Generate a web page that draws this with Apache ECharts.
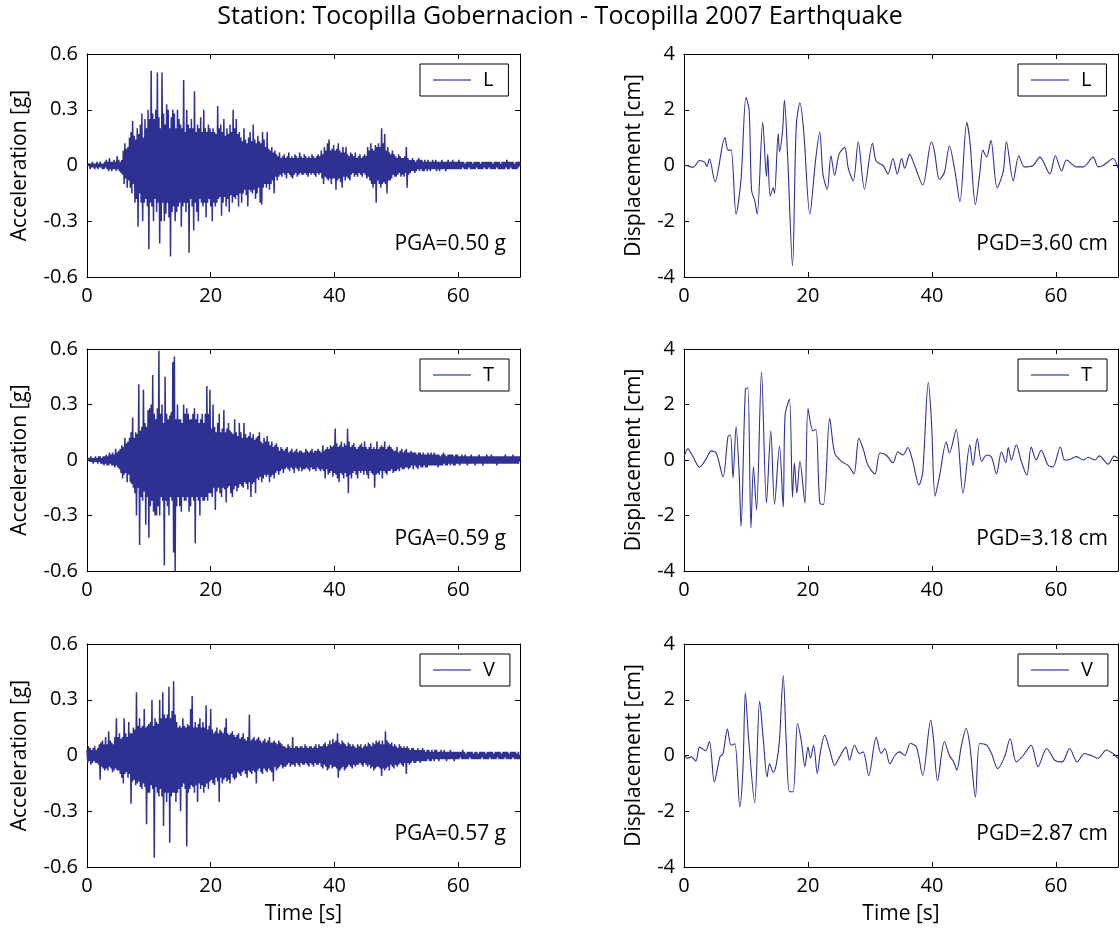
<!DOCTYPE html>
<html>
<head>
<meta charset="utf-8">
<script src="https://cdn.jsdelivr.net/npm/echarts@6/dist/echarts.min.js"></script>
<style>
html, body { margin: 0; padding: 0; background: #fff; }
#chart { width: 1120px; height: 931px; }
</style>
</head>
<body>
<div id="chart"></div>
<script>
// acceleration records [g], one sample every accStep seconds
const accStep = 0.125;

const accL = [
  // 0 - 5 s
  0, .01, -.01, .01, -.02, .01, -.01, .02, -.01, .01, -.02, .01, -.01, .02, -.02, .01, -.01, .02, -.01, .01,
  -.02, .01, -.02, .02, -.01, .03, -.02, .02, -.03, .04, -.02, .02, -.03, .02, -.02, .03, -.02, .02, -.03,
  // 5 - 10 s
  .05, -.02, .03, -.03, .02, -.04, .03, -.05, .08, -.1, .12, -.07, .09, -.12, .1, -.08,
  .15, -.12, .18, -.15, .24, -.1, .16, -.2, .14, -.18, .2, -.33, .17, -.15, .22, -.2,
  .28, -.3, .15, -.2, .25, -.18, .2, -.22,
  // 10 - 15 s
  .3, -.45, .25, -.2, .51, -.22, .28, -.3, .25, -.18, .3, -.25, .5, -.2, .26, -.42,
  .2, -.3, .5, -.2, .28, -.3, .22, -.26, .33, -.2, .3, -.28, .2, -.49, .26, -.25,
  .3, -.22, .28, -.3, .2, -.25, .3, -.22,
  // 15 - 20 s
  .25, -.2, .22, -.33, .2, -.22, .46, -.2, .18, -.25, .3, -.2, .22, -.47, .2, -.18,
  .25, -.22, .2, -.35, .4, -.2, .18, -.25, .22, -.3, .2, -.18, .26, -.2, .18, -.22,
  .3, -.2, .2, -.28, .18, -.2, .22, -.18,
  // 20 - 25 s
  .2, -.22, .18, -.3, .2, -.2, .18, -.22, .17, -.2, .32, -.18, .2, -.17, .22, -.27,
  .18, -.2, .25, -.17, .16, -.22, .2, -.18, .17, -.25, .22, -.16, .18, -.2, .3, -.17,
  .2, -.18, .25, -.16, .17, -.22, .18, -.15,
  // 25 - 30 s
  .15, -.2, .13, -.15, .2, -.13, .14, -.16, .12, -.22, .15, -.13, .18, -.14, .13, -.15,
  .22, -.13, .14, -.18, .12, -.15, .16, -.12, .13, -.2, .12, -.21, .18, -.12, .14, -.1,
  .1, -.12, .18, -.1, .09, -.13, .08, -.1,
  // 30 - 35 s
  .1, -.08, .07, -.15, .08, -.06, .06, -.08, .05, -.06, .07, -.05, .04, -.06, .05, -.04,
  .06, -.05, .04, -.07, .05, -.04, .07, -.05, .04, -.06, .05, -.07, .04, -.05, .06, -.04,
  .05, -.06, .04, -.05, .07, -.04, .05, -.05,
  // 35 - 40 s
  .04, -.05, .06, -.04, .05, -.05, .04, -.06, .05, -.04, .04, -.05, .06, -.04, .05, -.05,
  .04, -.06, .05, -.04, .06, -.05, .05, -.04, .08, -.07, .06, -.1, .1, -.06, .08, -.07,
  .12, -.08, .14, -.07, .08, -.1, .09, -.07,
  // 40 - 45 s
  .11, -.07, .08, -.13, .09, -.08, .12, -.07, .08, -.09, .07, -.12, .1, -.06, .07, -.08,
  .1, -.06, .06, -.07, .05, -.08, .07, -.05, .06, -.04, .05, -.06, .07, -.05, .04, -.06,
  .05, -.04, .06, -.05, .04, -.06, .05, -.04,
  // 45 - 50 s
  .06, -.05, .05, -.07, .1, -.06, .08, -.08, .12, -.1, .09, -.12, .08, -.1, .11, -.2,
  .1, -.08, .12, -.1, .1, -.12, .2, -.1, .12, -.09, .17, -.1, .08, -.15, .1, -.08,
  .07, -.08, .06, -.07, .08, -.05, .06, -.06,
  // 50 - 55 s
  .05, -.06, .04, -.05, .06, -.04, .05, -.06, .04, -.05, .04, -.06, .05, -.04, .1, -.12,
  .04, -.05, .03, -.04, .03, -.03, .04, -.03, .03, -.04, .02, -.03, .03, -.02, .04, -.03,
  .03, -.02, .03, -.03, .02, -.03, .03, -.02,
  // 55 - 60 s
  .02, -.03, .03, -.02, .02, -.03, .02, -.02, .03, -.02, .02, -.02, .03, -.03, .02, -.02,
  .02, -.03, .02, -.02, .03, -.02, .02, -.02, .02, -.03, .02, -.02, .03, -.02, .02, -.02,
  .02, -.02, .03, -.02, .02, -.02, .02, -.02,
  // 60 - 65 s
  .02, -.02, .03, -.02, .02, -.02, .02, -.01, .02, -.02, .01, -.02, .02, -.02, .02, -.01,
  .02, -.02, .02, -.02, .01, -.02, .02, -.02, .02, -.01, .02, -.02, .02, -.02, .01, -.02,
  .02, -.02, .02, -.01, .02, -.02, .02, -.02,
  // 65 - 70 s
  .02, -.01, .02, -.02, .02, -.02, .01, -.02, .02, -.02, .02, -.01, .02, -.02, .02, -.02,
  .01, -.02, .02, -.02, .02, -.02, .02, -.01, .03, -.02, .02, -.02, .02, -.01, .02, -.02,
  .02, -.02, .01, -.02, .02, -.02, .02, -.01, .02, 0
];

const accT = [
  // 0 - 5 s
  0, .01, -.01, .01, -.01, .02, -.01, .01, -.02, .01, -.01, .02, -.01, .01, -.02, .02,
  -.01, .02, -.02, .01, -.02, .02, -.03, .02, -.02, .03, -.03, .02, -.03, .04, -.02, .03,
  -.03, .04, -.03, .03, -.04, .06, -.03, .04,
  // 5 - 10 s
  -.04, .05, -.05, .06, -.07, .08, -.1, .07, -.08, .12, -.07, .09, -.12, .1, -.08, .12,
  -.12, .15, -.13, .23, -.15, .12, -.18, .15, -.3, .14, -.15, .41, -.46, .16, -.2, .18,
  -.22, .38, -.17, .2, -.35, .18, -.2, .27,
  // 10 - 15 s
  -.42, .28, -.25, .3, -.22, .46, -.28, .25, -.3, .22, -.3, .28, -.25, .59, -.3, .25,
  -.2, .3, -.22, .2, -.57, .45, -.22, .25, -.25, .22, -.3, .24, -.2, .26, -.22, .53,
  -.5, .56, -.6, .22, -.25, .3, -.2, .22,
  // 15 - 20 s
  -.25, .22, -.28, .2, -.2, .3, -.22, .25, -.22, .28, -.2, .25, -.28, .22, -.25, .22,
  -.2, .25, -.22, .28, -.45, .22, -.2, .25, -.22, .2, -.3, .22, -.2, .25, -.22, .2,
  -.22, .25, -.2, .4, -.22, .25, -.18, .38,
  // 20 - 25 s
  -.18, .17, -.2, .3, -.15, .18, -.27, .15, -.17, .2, -.15, .25, -.18, .15, -.2, .17,
  -.15, .27, -.16, .15, -.23, .17, -.15, .2, -.14, .16, -.18, .15, -.2, .14, -.16, .22,
  -.14, .15, -.17, .13, -.15, .2, -.13, .15,
  // 25 - 30 s
  -.14, .12, -.15, .2, -.12, .14, -.13, .12, -.16, .13, -.12, .15, -.2, .12, -.13, .14,
  -.12, .11, -.18, .12, -.1, .13, -.11, .15, -.09, .1, -.12, .09, -.1, .12, -.08, .1,
  -.09, .13, -.08, .1, -.12, .08, -.09, .1,
  // 30 - 35 s
  -.08, .07, -.1, .08, -.07, .09, -.06, .07, -.08, .05, -.06, .07, -.05, .06, -.07, .05,
  -.05, .06, -.04, .07, -.05, .04, -.06, .05, -.04, .06, -.05, .04, -.07, .05, -.04, .06,
  -.05, .04, -.06, .05, -.04, .05, -.06, .04,
  // 35 - 40 s
  -.05, .04, -.05, .06, -.04, .05, -.05, .04, -.06, .05, -.04, .06, -.05, .04, -.05, .05,
  -.06, .05, -.04, .06, -.05, .05, -.06, .04, -.05, .08, -.06, .05, -.1, .06, -.05, .07,
  -.08, .06, -.07, .08, -.06, .07, -.09,
  // 40 - 45 s
  .08, -.07, .17, -.08, .09, -.1, .07, -.12, .08, -.07, .1, -.08, .07, -.1, .09, -.07,
  .08, -.09, .17, -.18, .1, -.08, .07, -.1, .08, -.07, .09, -.06, .07, -.08, .06, -.1,
  .07, -.06, .08, -.07, .09, -.06, .07, -.08,
  // 45 - 50 s
  .1, -.06, .07, -.08, .06, -.1, .07, -.06, .09, -.07, .06, -.08, .07, -.15, .06, -.08,
  .1, -.07, .06, -.08, .07, -.06, .08, -.1, .07, -.06, .1, -.07, .06, -.08, .07, -.06,
  .08, -.06, .07, -.05, .06, -.07, .05, -.06,
  // 50 - 55 s
  .05, -.06, .07, -.05, .04, -.06, .05, -.04, .06, -.05, .04, -.05, .05, -.04, .06, -.04,
  .04, -.05, .04, -.04, .05, -.03, .04, -.05, .04, -.03, .04, -.04, .03, -.05, .04, -.03,
  .04, -.04, .03, -.04, .04, -.03, .03, -.04,
  // 55 - 60 s
  .03, -.04, .04, -.03, .03, -.03, .04, -.03, .03, -.03, .04, -.03, .03, -.03, .03, -.04,
  .03, -.03, .02, -.03, .03, -.03, .04, -.02, .03, -.03, .02, -.03, .03, -.02, .03, -.03,
  .03, -.02, .03, -.03, .02, -.03, .03, -.02,
  // 60 - 65 s
  .03, -.02, .02, -.03, .02, -.02, .03, -.02, .02, -.02, .03, -.02, .02, -.03, .02, -.02,
  .02, -.02, .03, -.02, .02, -.02, .02, -.03, .02, -.02, .02, -.02, .03, -.02, .02, -.02,
  .02, -.03, .02, -.02, .02, -.02, .03, -.02,
  // 65 - 70 s
  .02, -.02, .02, -.02, .03, -.02, .02, -.02, .02, -.02, .02, -.03, .02, -.02, .02, -.02,
  .02, -.02, .02, -.02, .02, -.02, .03, -.02, .02, -.02, .02, -.02, .02, -.02, .02, -.02,
  .03, -.02, .02, -.02, .02, -.02, .02, -.02, .02, 0
];

const accV = [
  // 0 - 5 s
  .03, -.04, .05, -.03, .04, -.05, .03, -.04, .04, -.03, .05, -.04, .03, -.04, .04, -.05,
  .06, -.13, .07, -.06, .08, -.07, .06, -.08, .1, -.07, .06, -.08, .13, -.06, .08, -.07,
  .07, -.09, .06, -.08, .1, -.07, .2, -.08,
  // 5 - 10 s
  .1, -.08, .12, -.1, .09, -.12, .1, -.15, .2, -.1, .12, -.09, .1, -.12, .18, -.1,
  .12, -.26, .12, -.14, .15, -.13, .14, -.16, .34, -.15, .16, -.14, .2, -.17, .15, -.18,
  .16, -.15, .25, -.17, .15, -.37, .16, -.2,
  // 10 - 15 s
  .17, -.2, .18, -.16, .3, -.18, .16, -.55, .2, -.17, .18, -.2, .17, -.22, .3, -.18,
  .2, -.22, .34, -.38, .22, -.2, .2, -.25, .22, -.2, .37, -.47, .2, -.22, .24, -.2,
  .4, -.2, .22, -.25, .18, -.2, .15, -.18,
  // 15 - 20 s
  .16, -.3, .15, -.17, .2, -.15, .16, -.18, .15, -.49, .17, -.2, .16, -.18, .25, -.16,
  .32, -.17, .15, -.2, .18, -.16, .15, -.25, .17, -.15, .2, -.18, .15, -.16, .18, -.2,
  .15, -.17, .27, -.15, .14, -.18, .16, -.14,
  // 20 - 25 s
  .25, -.13, .14, -.15, .12, -.16, .13, -.12, .15, -.14, .12, -.25, .14, -.12, .13, -.15,
  .12, -.13, .15, -.12, .2, -.14, .12, -.13, .11, -.15, .12, -.1, .13, -.12, .11, -.13,
  .1, -.12, .11, -.09, .12, -.1, .09, -.11,
  // 25 - 30 s
  .1, -.09, .12, -.08, .09, -.1, .08, -.12, .1, -.08, .22, -.09, .08, -.1, .09, -.08,
  .1, -.09, .08, -.15, .09, -.08, .1, -.07, .08, -.09, .07, -.1, .08, -.07, .09, -.08,
  .07, -.09, .08, -.07, .1, -.08, .07, -.09,
  // 30 - 35 s
  .07, -.14, .08, -.06, .07, -.08, .06, -.07, .08, -.06, .07, -.05, .06, -.07, .05, -.06,
  .05, -.06, .04, -.05, .06, -.04, .05, -.06, .04, -.05, .1, -.05, .04, -.06, .05, -.04,
  .05, -.05, .04, -.06, .05, -.04, .05, -.05,
  // 35 - 40 s
  .04, -.05, .06, -.04, .05, -.05, .04, -.06, .05, -.04, .05, -.05, .04, -.06, .05, -.04,
  .06, -.05, .04, -.05, .06, -.04, .05, -.06, .05, -.07, .06, -.05, .07, -.06, .05, -.08,
  .06, -.07, .08, -.05, .06, -.07, .09, -.06,
  // 40 - 45 s
  .07, -.06, .08, -.07, .12, -.12, .07, -.08, .06, -.07, .08, -.06, .07, -.08, .06, -.07,
  .05, -.06, .07, -.05, .06, -.06, .05, -.07, .06, -.05, .05, -.06, .04, -.05, .06, -.05,
  .05, -.04, .06, -.05, .04, -.06, .05, -.04,
  // 45 - 50 s
  .06, -.05, .05, -.06, .07, -.05, .06, -.07, .05, -.06, .07, -.08, .06, -.07, .08, -.06,
  .07, -.06, .08, -.07, .06, -.11, .08, -.07, .06, -.08, .13, -.07, .08, -.06, .07, -.08,
  .06, -.05, .07, -.06, .05, -.07, .06, -.05,
  // 50 - 55 s
  .05, -.06, .04, -.05, .06, -.04, .05, -.05, .04, -.06, .05, -.04, .04, -.1, .05, -.04,
  .04, -.05, .03, -.04, .04, -.03, .04, -.04, .03, -.04, .03, -.03, .04, -.03, .03, -.04,
  .03, -.03, .04, -.03, .03, -.03, .02, -.03,
  // 55 - 60 s
  .03, -.02, .03, -.03, .02, -.03, .03, -.02, .02, -.03, .03, -.02, .03, -.02, .02, -.03,
  .02, -.02, .03, -.02, .02, -.02, .03, -.02, .02, -.03, .02, -.02, .02, -.02, .03, -.02,
  .02, -.02, .02, -.03, .02, -.02, .02, -.02,
  // 60 - 65 s
  .02, -.02, .02, -.01, .02, -.02, .03, -.02, .02, -.02, .01, -.02, .02, -.02, .02, -.01,
  .02, -.02, .02, -.02, .01, -.02, .02, -.02, .02, -.02, .01, -.02, .02, -.02, .02, -.01,
  .02, -.02, .02, -.02, .01, -.02, .02, -.02,
  // 65 - 70 s
  .02, -.01, .02, -.02, .02, -.02, .01, -.02, .02, -.02, .02, -.01, .02, -.02, .02, -.02,
  .01, -.02, .02, -.02, .02, -.01, .02, -.02, .02, -.02, .01, -.02, .02, -.02, .02, -.01,
  .02, -.02, .02, -.02, .01, -.02, .02, -.02, 0
];

// displacement records: turning points of each trace (time [s], value [cm])
const dispTimeL = [0, 1.5, 2.5, 3.3, 3.7, 4.1, 5.0, 6.6, 7.1, 7.6, 8.4, 9.2, 10.0, 10.5, 10.9, 11.4, 11.8, 12.7, 13.3, 13.5,
  13.9, 14.4, 14.6, 15.2, 15.4, 15.9, 16.2, 16.7, 17.5, 18.1, 18.7, 19.3, 20.3, 21.2, 21.9, 22.4, 23.1, 23.7, 24.3, 25.0,
  25.9, 26.5, 27.3, 28.1, 29.1, 30.4, 31.0, 32.1, 32.9, 33.7, 34.4, 35.1, 35.6, 36.4, 37.2, 38.5, 39.9, 40.4, 41.2, 42.0,
  42.8, 43.7, 44.5, 45.6, 46.1, 47.0, 47.7, 48.2, 48.8, 49.5, 50.5, 51.5, 52.0, 53.1, 54.0, 54.9, 56.3, 57.4, 59.0, 59.9,
  60.9, 61.7, 63.3, 64.4, 66.0, 66.8, 67.6, 69.2, 70];
const dispL = [0.03, -0.06, 0.18, 0.12, -0.03, 0.24, -0.58, 1.0, 0.55, 0.55, -1.75, -0.5, 2.45, 2.0, -0.9, -1.25, -1.75, 1.55, -0.4, 0.4,
  -1.1, -0.8, -1.0, 1.15, 0.5, 1.25, 2.35, 0.4, -3.6, 1.4, 2.25, 1.25, -1.75, 0.15, 1.2, -0.3, -0.85, 0.35, -0.35, 0.4,
  0.65, -0.1, -0.55, 0.85, -0.85, 0.8, 0.15, 0, -0.3, 0.25, -0.3, 0.25, -0.1, 0.4, 0, -0.7, 0.85, 0.5, -0.5, -0.25,
  0.7, -0.2, -1.3, 1.55, 0.9, -1.4, -0.3, 0.55, 0.3, 0.9, -0.8, -0.2, 0.85, -0.55, 0.35, -0.05, 0, 0.3, -0.3, 0.35,
  -0.2, 0.2, -0.05, -0.05, 0.3, -0.05, 0, 0.25, -0.1];

const dispTimeT = [0, 0.6, 1.5, 2.5, 3.6, 4.4, 5.2, 6.3, 7.1, 7.5, 7.9, 8.4, 8.9, 9.2, 9.9, 10.3, 10.8, 11.2, 11.7, 12.5,
  13.3, 14.0, 14.6, 15.4, 16.0, 16.3, 17.0, 17.5, 17.8, 18.2, 18.7, 19.5, 20.0, 20.8, 21.3, 21.9, 22.5, 23.5, 24.3, 25.4,
  26.5, 27.4, 28.2, 28.9, 29.7, 30.8, 31.6, 32.6, 33.7, 34.5, 35.3, 36.1, 36.9, 37.9, 38.5, 39.4, 39.9, 40.5, 41.2, 42.3,
  42.8, 43.9, 45.0, 46.1, 46.6, 47.3, 48.0, 48.8, 49.6, 50.4, 51.2, 51.9, 52.3, 52.8, 53.6, 54.4, 55.3, 56.0, 56.8, 57.6,
  58.7, 59.5, 60.7, 61.4, 62.2, 63.3, 64.4, 65.2, 66.3, 67.0, 68.4, 69.4, 70];
const dispT = [0.1, 0.4, 0.1, -0.26, 0.05, 0.33, 0.25, -0.6, 0.85, 0.9, -0.65, 1.2, -0.5, -2.4, 2.55, 2.6, -2.45, -0.25, -1.8, 3.18,
  -1.55, 1.05, -1.6, 0.5, -1.7, 1.6, 2.2, -1.35, -0.1, -1.2, -0.05, -1.55, 1.85, 1.05, 1.1, -1.55, -1.6, 1.5, 0.25, -0.05,
  -0.2, -0.5, 0.78, 0.4, -0.2, -0.5, 0.25, 0.18, -0.1, 0.3, 0.18, 0.45, -0.05, -0.9, -0.45, 2.8, 1.45, -1.3, -0.6, 0.65,
  0.25, 1.1, -1.2, 0.55, -0.2, 0.77, -0.05, 0.18, 0.1, -0.5, 0.3, -0.1, 0.45, 0, 0.55, -0.05, -0.55, 0.47, 0, 0.35,
  -0.18, -0.25, 0.47, 0, 0.02, 0.12, 0, 0.1, 0, 0.15, -0.15, 0.14, 0.06];

const dispTimeV = [0, 0.5, 1.2, 1.9, 2.5, 3.1, 3.5, 4.1, 4.9, 5.8, 6.3, 7.0, 7.6, 8.2, 9.0, 9.5, 9.9, 10.4, 11.4, 12.2,
  12.8, 13.4, 13.8, 14.4, 14.9, 15.4, 16.0, 16.5, 17.0, 17.6, 18.3, 18.9, 19.5, 20.0, 20.4, 20.9, 21.5, 22.0, 22.7, 23.5,
  24.3, 25.1, 26.1, 26.7, 27.5, 28.3, 28.9, 29.8, 31.0, 31.8, 32.4, 33.2, 34.0, 34.8, 35.6, 36.5, 37.5, 38.5, 39.8, 40.2,
  40.9, 42.0, 42.8, 43.5, 44.0, 44.7, 45.5, 46.1, 47.0, 47.7, 48.8, 49.6, 50.6, 51.7, 52.6, 53.6, 54.7, 56.0, 57.1, 58.5,
  59.8, 61.0, 62.2, 63.4, 64.6, 65.7, 66.8, 68.1, 69.2, 70];
const dispV = [0.07, -0.1, -0.05, -0.2, 0.3, 0.22, 0.17, 0.5, -0.95, -0.05, 0.07, 0.95, 0.37, 0.42, -1.85, -0.5, 2.25, 0.67, -1.7, 1.95,
  0.55, -0.77, -0.3, -0.6, -0.3, 0.55, 2.87, 0.42, -1.3, -1.3, 1.15, 0.55, -0.4, 0.3, -0.1, 0.37, -0.65, 0.13, 0.73, 0.2,
  -0.35, -0.05, 0.3, -0.17, 0.37, 0.07, 0.13, -0.72, 0.65, 0.07, 0.25, -0.3, 0, 0.13, 0, 0.43, 0.3, -0.72, 1.27, 0.67,
  -0.9, 0.5, 0, -0.23, -0.53, 0.3, 0.97, 0.37, -1.5, 0.43, 0.37, 0.07, -0.47, -0.05, 0.6, -0.23, 0, 0.37, -0.4, 0.25,
  -0.17, -0.23, 0.25, -0.23, 0.07, 0, -0.1, 0.2, 0.07, -0.1];

const components = ['L', 'T', 'V'];
const pgaLabels = ['PGA=0.50 g', 'PGA=0.59 g', 'PGA=0.57 g'];
const pgdLabels = ['PGD=3.60 cm', 'PGD=3.18 cm', 'PGD=2.87 cm'];
const accTicks = [-0.6, -0.3, 0, 0.3, 0.6];
const dispTicks = [-4, -2, 0, 2, 4];
const timeTicks = [0, 20, 40, 60];
const timeMax = 70;

const accData = [accL, accT, accV];
const dispData = [[dispTimeL, dispL], [dispTimeT, dispT], [dispTimeV, dispV]];

const font = "'Open Sans', sans-serif";
const lineColor = '#2e3192';

// layout, px
const rowTop = [54, 349, 644];
const rowH = [223, 222, 223];
const colLeft = [87, 684];
const colW = [433, 434];
const noteInset = [14, 10];

const chart = echarts.init(document.getElementById('chart'));

const grid = [];
const xAxis = [];
const yAxis = [];
const series = [];
const legend = [];
const title = [{
  text: 'Station: Tocopilla Gobernacion - Tocopilla 2007 Earthquake',
  left: 'center',
  top: 4,
  padding: 0,
  textStyle: { fontFamily: font, fontSize: 25, fontWeight: 'normal', color: '#000' },
}];

const boxLine = { show: true, onZero: false, lineStyle: { color: '#000', width: 1 } };
const inTick = { show: true, inside: true, length: 5, lineStyle: { color: '#000', width: 1 } };
const labelStyle = { fontFamily: font, fontSize: 20, color: '#000' };
const nameStyle = { fontFamily: font, fontSize: 21, color: '#000' };

for (let r = 0; r < 3; r++) {
  for (let c = 0; c < 2; c++) {
    const g = grid.length;
    const ticks = c === 0 ? accTicks : dispTicks;
    grid.push({ left: colLeft[c], top: rowTop[r], width: colW[c], height: rowH[r], containLabel: false });

    const xBase = {
      gridIndex: g, type: 'value', min: 0, max: timeMax, interval: 20,
      splitLine: { show: false }, axisLine: boxLine, axisTick: inTick,
    };
    xAxis.push(Object.assign({}, xBase, {
      position: 'bottom',
      axisLabel: {
        ...labelStyle, margin: 9, showMaxLabel: false,
        formatter: (v) => (timeTicks.includes(v) ? String(v) : ''),
      },
      name: r === 2 ? 'Time [s]' : '',
      nameLocation: 'middle',
      nameGap: 37,
      nameTextStyle: nameStyle,
    }));
    xAxis.push(Object.assign({}, xBase, { position: 'top', axisLabel: { show: false } }));

    const yBase = {
      gridIndex: g, type: 'value', min: ticks[0], max: ticks[ticks.length - 1],
      interval: ticks[1] - ticks[0],
      splitLine: { show: false }, axisLine: boxLine, axisTick: inTick,
    };
    yAxis.push(Object.assign({}, yBase, {
      position: 'left',
      axisLabel: { ...labelStyle, margin: 9 },
      name: c === 0 ? 'Acceleration [g]' : 'Displacement [cm]',
      nameLocation: 'middle',
      nameRotate: 90,
      nameGap: c === 0 ? 56 : 39,
      nameTextStyle: nameStyle,
    }));
    yAxis.push(Object.assign({}, yBase, { position: 'right', axisLabel: { show: false } }));

    let data;
    if (c === 0) {
      data = accData[r].map((v, i) => [i * accStep, v]);
    } else {
      const [times, vals] = dispData[r];
      data = times.map((t, i) => [t, vals[i]]);
    }
    series.push({
      name: components[r],
      type: 'line',
      xAxisIndex: 2 * g,
      yAxisIndex: 2 * g,
      data,
      symbol: 'none',
      showSymbol: false,
      smooth: c === 0 ? false : 0.3,
      lineStyle: { color: lineColor, width: c === 0 ? 1.5 : 1.1 },
      itemStyle: { color: lineColor },
      clip: true,
    });

    const plotRight = colLeft[c] + colW[c];
    legend.push({
      data: [components[r]],
      left: plotRight - 100,
      top: rowTop[r] + 10,
      padding: [6, 15, 6, 13],
      icon: 'rect',
      itemWidth: 38,
      itemHeight: 2,
      itemStyle: { color: '#8487c4' },
      borderColor: '#000',
      borderWidth: 1,
      borderRadius: 0,
      backgroundColor: '#fff',
      selectedMode: false,
      textStyle: { fontFamily: font, fontSize: 20, color: '#000', padding: [0, 0, 0, 7] },
    });

    title.push({
      text: c === 0 ? pgaLabels[r] : pgdLabels[r],
      right: 1120 - (plotRight - noteInset[c]),
      top: rowTop[r] + 180,
      padding: 0,
      textStyle: { fontFamily: font, fontSize: 21, fontWeight: 'normal', color: '#000' },
    });
  }
}

chart.setOption({
  animation: false,
  backgroundColor: '#fff',
  title,
  legend,
  grid,
  xAxis,
  yAxis,
  series,
});
</script>
</body>
</html>
